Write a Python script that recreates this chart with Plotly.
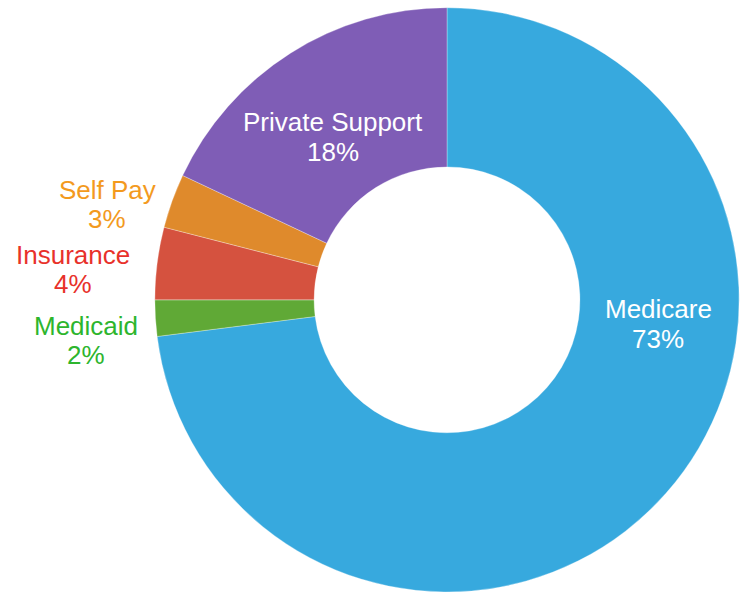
import plotly.graph_objects as go

labels = ["Medicare", "Medicaid", "Insurance", "Self Pay", "Private Support"]
values = [73, 2, 4, 3, 18]
slice_colors = ["#37A9DE", "#60A936", "#D5523F", "#DF8A2C", "#7F5DB6"]
text_colors = ["#FFFFFF", "#2DB52D", "#E8312A", "#F39A1E", "#FFFFFF"]

W, H = 741, 592
# label text centres (pixels from top-left): name line, percent line
label_xy = [(658, 309, 339), (86, 326, 355), (73, 255, 284), (107, 190, 219), (333, 122, 152)]

fig = go.Figure(go.Pie(
    labels=labels,
    values=values,
    hole=0.455,
    sort=False,
    direction="clockwise",
    rotation=0,
    marker=dict(colors=slice_colors, line=dict(color="rgba(255,255,255,0.5)", width=0.6)),
    textinfo="none",
    hoverinfo="label+percent",
    domain=dict(x=[154 / W, 740 / W], y=[0, 0.987]),
    showlegend=False,
))

total = sum(values)
for lab, val, col, (px, py1, py2) in zip(labels, values, text_colors, label_xy):
    pct = f"{round(100 * val / total)}%"
    for txt, py in ((lab, py1), (pct, py2)):
        fig.add_annotation(
            x=px / W, y=1 - py / H, xref="paper", yref="paper",
            text=txt, showarrow=False, xanchor="center", yanchor="middle",
            font=dict(family="Liberation Sans, Arial", size=26, color=col),
        )

fig.update_layout(
    width=W, height=H,
    margin=dict(l=0, r=0, t=0, b=0),
    paper_bgcolor="white",
    plot_bgcolor="white",
)

fig.write_html("out.html", config={"displayModeBar": False},
               post_script="document.body.style.margin='0px';")
